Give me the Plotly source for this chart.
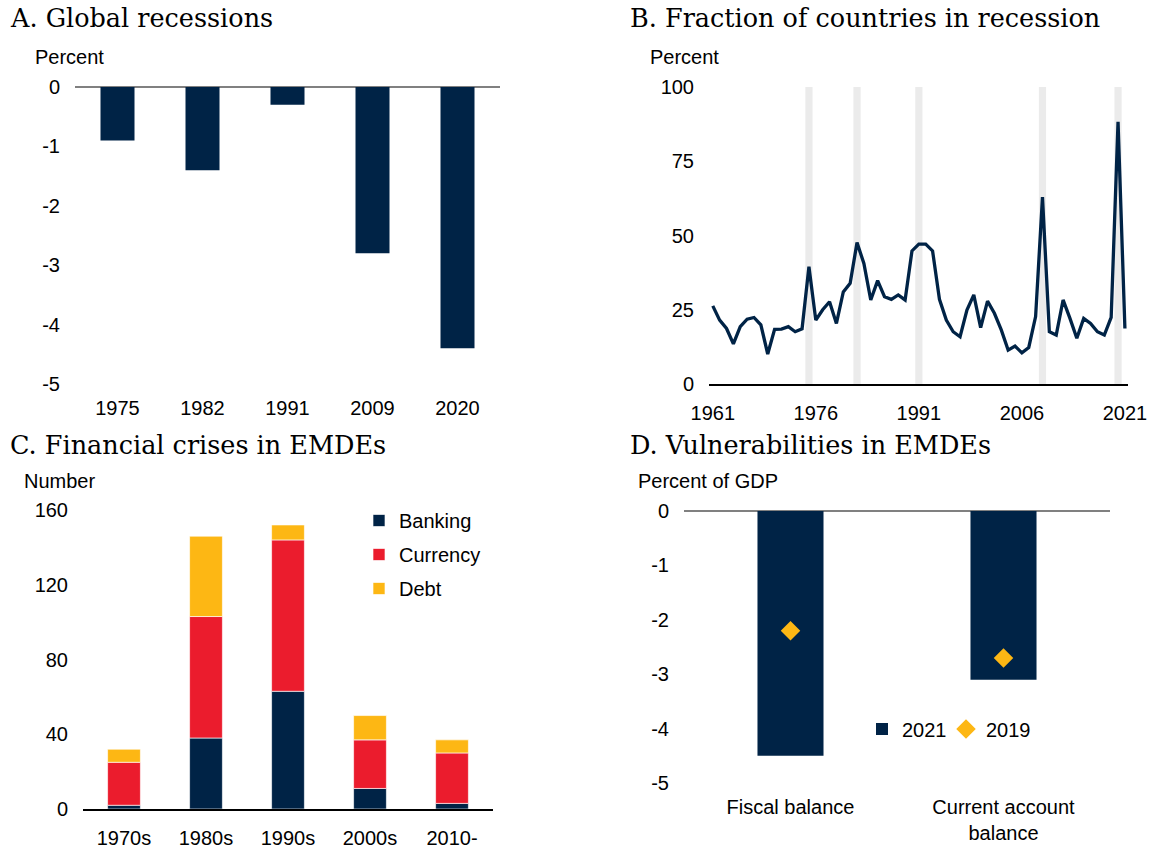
import plotly.graph_objects as go

W, H = 1152, 849

NAVY = "#002346"
RED = "#EB1C2D"
YELLOW = "#FDB714"
GREY_BAND = "#EBEBEB"
SANS = "Liberation Sans, Arial, sans-serif"
SERIF = "DejaVu Serif, serif"

# ---------------- Data ----------------
# Panel A: Global recessions (per capita GDP growth, percent)
rec_years = ["1975", "1982", "1991", "2009", "2020"]
rec_growth = [-0.9, -1.4, -0.3, -2.8, -4.4]

# Panel B: Fraction of countries in recession (percent)
years = list(range(1961, 2022))
frac_recession = [26.3, 21.5, 18.7, 13.5, 19.3, 21.8, 22.4, 19.9, 10.1, 18.4,
                  18.5, 19.3, 17.6, 18.6, 39.5, 21.5, 25.0, 27.7, 20.4, 31.0,
                  33.9, 47.6, 40.6, 28.3, 34.8, 29.4, 28.5, 30.0, 28.3, 44.8,
                  47.1, 47.1, 44.8, 28.5, 21.5, 17.6, 15.9, 24.9, 30.0, 19.0,
                  27.9, 23.8, 18.2, 11.4, 12.8, 10.5, 12.3, 22.7, 62.9, 17.6,
                  16.5, 28.3, 22.1, 15.4, 22.1, 20.4, 17.6, 16.5, 22.4, 88.3, 18.7]
global_recession_years = [1975, 1982, 1991, 2009, 2020]
band_height = [100, 100, 100, 100, 100]
b_ticks = [1961, 1976, 1991, 2006, 2021]

# Panel C: Financial crises in EMDEs (number)
decades = ["1970s", "1980s", "1990s", "2000s", "2010-"]
banking = [2, 38, 63, 11, 3]
currency = [23, 65, 81, 26, 27]
debt = [7, 43, 8, 13, 7]

# Panel D: Vulnerabilities in EMDEs (percent of GDP)
vuln_cats = ["Fiscal balance", "Current account<br>balance"]
vuln_2021 = [-4.5, -3.1]
vuln_2019 = [-2.2, -2.7]

neg_ticks = [0, -1, -2, -3, -4, -5]
neg_labels = ["0", "-1", "-2", "-3", "-4", "-5"]


# ---------------- Helpers ----------------
def xdom(l, r):
    return [l / W, r / W]


def ydom(top, bottom):
    return [1 - bottom / H, 1 - top / H]


fig = go.Figure()

# Panel A
fig.add_trace(go.Bar(x=rec_years, y=rec_growth, width=0.4, marker_color=NAVY,
                     marker_line_width=0, showlegend=False, xaxis="x", yaxis="y"))

# Panel B
fig.add_trace(go.Bar(x=global_recession_years, y=band_height, width=1.05,
                     marker_color=GREY_BAND, marker_line_width=0, showlegend=False,
                     xaxis="x2", yaxis="y2"))
fig.add_trace(go.Scatter(x=years, y=frac_recession, mode="lines",
                         line=dict(color=NAVY, width=3.3), showlegend=False,
                         xaxis="x2", yaxis="y2"))

# Panel C
for name, vals, col in [("Banking", banking, NAVY), ("Currency", currency, RED),
                        ("Debt", debt, YELLOW)]:
    fig.add_trace(go.Bar(x=decades, y=vals, name=name, width=0.4, marker_color=col,
                         marker_line=dict(color="rgba(255,255,255,0.8)", width=0.8),
                         legend="legend", legendgroup=name,
                         xaxis="x3", yaxis="y3"))

# Panel D
fig.add_trace(go.Bar(x=vuln_cats, y=vuln_2021, name="2021", width=0.31,
                     marker_color=NAVY, marker_line_width=0, legend="legend2",
                     xaxis="x4", yaxis="y4"))
fig.add_trace(go.Scatter(x=vuln_cats, y=vuln_2019, name="2019", mode="markers",
                         marker=dict(symbol="diamond", size=15, color=YELLOW),
                         legend="legend3", xaxis="x4", yaxis="y4"))

tickfont = dict(family=SANS, size=20, color="#000000")

common_x = dict(showgrid=False, zeroline=False, ticks="", tickfont=tickfont,
                ticklabelstandoff=10, fixedrange=True, automargin=False)
common_y = dict(showgrid=False, ticks="", tickfont=tickfont,
                ticklabelstandoff=14, fixedrange=True, automargin=False)

legend_common = dict(xanchor="left", font=dict(family=SANS, size=20),
                     bgcolor="rgba(0,0,0,0)", itemwidth=30)

fig.update_layout(
    width=W, height=H,
    margin=dict(l=0, r=0, t=0, b=0, autoexpand=False),
    paper_bgcolor="white", plot_bgcolor="white",
    barmode="relative",
    font=dict(family=SANS, size=20, color="#000000"),
    xaxis=dict(domain=xdom(75, 500), anchor="y", type="category", showline=False,
               **common_x),
    yaxis=dict(domain=ydom(87, 384), anchor="x", range=[-5, 0],
               tickvals=neg_ticks, ticktext=neg_labels, zeroline=True,
               zerolinecolor="#808080", zerolinewidth=1.5, showline=False, **common_y),
    xaxis2=dict(domain=xdom(709, 1128), anchor="y2", range=[1960.45, 2021.45],
                tickvals=b_ticks, showline=True, linecolor="#000000", linewidth=1.5,
                **common_x),
    yaxis2=dict(domain=ydom(87, 384), anchor="x2", range=[0, 100],
                tickvals=[0, 25, 50, 75, 100], zeroline=False, showline=False,
                **common_y),
    xaxis3=dict(domain=xdom(83, 493), anchor="y3", type="category", showline=True,
                linecolor="#000000", linewidth=1.5, **common_x),
    yaxis3=dict(domain=ydom(510, 809), anchor="x3", range=[0, 160],
                tickvals=[0, 40, 80, 120, 160], zeroline=False, showline=False,
                **common_y),
    xaxis4=dict(domain=xdom(684, 1110), anchor="y4", type="category", showline=False,
                **common_x),
    yaxis4=dict(domain=ydom(511, 783), anchor="x4", range=[-5, 0],
                tickvals=neg_ticks, ticktext=neg_labels, zeroline=True,
                zerolinecolor="#808080", zerolinewidth=1.5, showline=False, **common_y),
    legend=dict(x=359 / W, y=1 - 501 / H, yanchor="top", orientation="v",
                traceorder="grouped", tracegroupgap=5, **legend_common),
    legend2=dict(x=862 / W, y=1 - 729 / H, yanchor="middle", orientation="h",
                 **legend_common),
    legend3=dict(x=946 / W, y=1 - 729 / H, yanchor="middle", orientation="h",
                 **legend_common),
)

titles = [
    ("A. Global recessions", 8, 18),
    ("B. Fraction of countries in recession", 628, 18),
    ("C. Financial crises in EMDEs", 8, 445),
    ("D. Vulnerabilities in EMDEs", 628, 445),
]
for txt, x, y in titles:
    fig.add_annotation(text=txt, x=x / W, y=1 - y / H, xref="paper", yref="paper",
                       xanchor="left", yanchor="middle", showarrow=False,
                       font=dict(family=SERIF, size=25.5, color="#000000"))

units = [
    ("Percent", 33, 57),
    ("Percent", 648, 57),
    ("Number", 22, 481),
    ("Percent of GDP", 636, 481),
]
for txt, x, y in units:
    fig.add_annotation(text=txt, x=x / W, y=1 - y / H, xref="paper", yref="paper",
                       xanchor="left", yanchor="middle", showarrow=False,
                       font=dict(family=SANS, size=20, color="#000000"))

fig.write_html("out.html",
               config={"displayModeBar": False, "staticPlot": True},
               post_script="document.body.style.margin='0';"
                           "document.body.style.overflow='hidden';")
